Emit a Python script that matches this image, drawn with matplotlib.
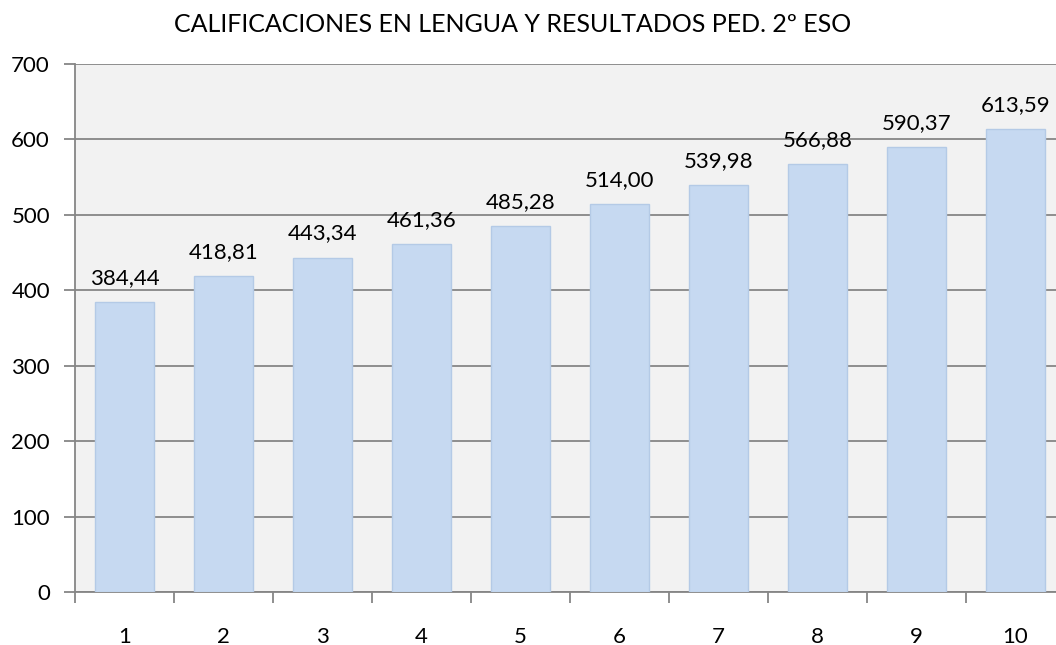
import matplotlib.pyplot as plt
from matplotlib.ticker import MultipleLocator, FixedLocator

plt.rcParams["font.family"] = ["Lato", "DejaVu Sans"]

TITLE = "CALIFICACIONES EN LENGUA Y RESULTADOS PED. 2º ESO"
categories = ["1", "2", "3", "4", "5", "6", "7", "8", "9", "10"]
values = [384.44, 418.81, 443.34, 461.36, 485.28, 514.00, 539.98, 566.88, 590.37, 613.59]

fig = plt.figure(figsize=(10.56, 6.45), dpi=100)
ax = fig.add_axes([75 / 1056, 53 / 645, 990 / 1056, 528 / 645])
ax.set_facecolor("#F2F2F2")

x = list(range(len(categories)))
ax.bar(x, values, width=0.59, color="#C6D9F1", edgecolor="#B4CAE6", linewidth=1, zorder=3)

# etiquetas de datos con coma decimal
for xi, v in zip(x, values):
    label = f"{v:.2f}".replace(".", ",")
    ax.annotate(label, (xi, v), xytext=(0, 13), textcoords="offset points",
                ha="center", va="baseline", fontsize=16, color="#000000", zorder=4)

ax.set_xlim(-0.5, len(categories) - 0.5)
ax.set_ylim(0, 700)
ax.yaxis.set_major_locator(MultipleLocator(100))
ax.grid(axis="y", color="#868686", linewidth=1.3, zorder=0)

ax.set_xticks(x)
ax.set_xticklabels(categories)
ax.xaxis.set_minor_locator(FixedLocator([i - 0.5 for i in range(len(categories) + 1)]))
ax.tick_params(axis="x", which="major", length=0, pad=25, labelsize=16)
ax.tick_params(axis="x", which="minor", length=8, width=1.3, color="#868686", direction="out")
ax.tick_params(axis="y", length=8, width=1.3, color="#868686", labelsize=16, pad=10)

for side in ["top", "right"]:
    ax.spines[side].set_visible(False)
ax.spines["left"].set_color("#868686")
ax.spines["left"].set_linewidth(1.3)
ax.spines["bottom"].set_color("#868686")
ax.spines["bottom"].set_linewidth(1.3)

fig.text(513 / 1056, 1 - 32 / 645, TITLE, ha="center", va="baseline", fontsize=18)

fig.savefig("out.png", dpi=100)
